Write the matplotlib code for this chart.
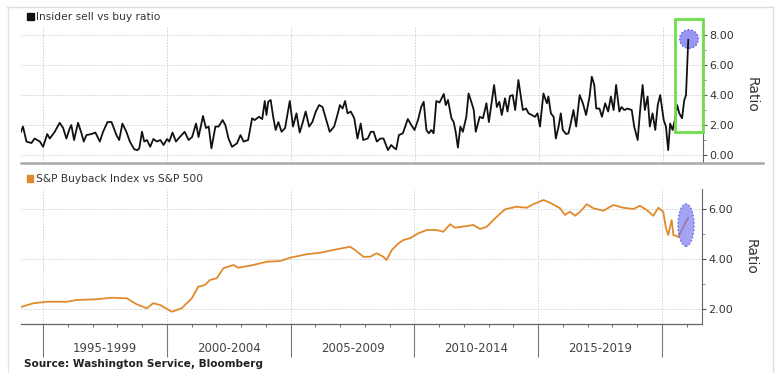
from matplotlib import pyplot as plt
from matplotlib.patches import Rectangle, Ellipse
from matplotlib.lines import Line2D
from matplotlib.ticker import MultipleLocator, FormatStrFormatter

# insider sell / buy ratio (decimal years)
insider_years = [
    1994.11, 1994.19, 1994.33, 1994.53, 1994.66, 1994.87, 1995.00, 1995.17, 1995.27, 1995.47,
    1995.67, 1995.81, 1995.94, 1996.08, 1996.14, 1996.25, 1996.41, 1996.55, 1996.64, 1996.75,
    1996.95, 1997.11, 1997.29, 1997.42, 1997.60, 1997.76, 1997.96, 1998.07, 1998.20, 1998.36,
    1998.50, 1998.68, 1998.81,
    1998.88, 1998.99, 1999.08, 1999.19, 1999.32, 1999.45, 1999.59, 1999.73, 1999.86, 2000.00,
    2000.09, 2000.22, 2000.36, 2000.46, 2000.71, 2000.87, 2001.01, 2001.17, 2001.27, 2001.45,
    2001.57, 2001.68, 2001.79, 2001.95, 2002.08, 2002.24, 2002.35, 2002.48, 2002.62, 2002.82,
    2002.96, 2003.09, 2003.27, 2003.43, 2003.53,
    2003.71, 2003.84, 2003.94, 2004.01, 2004.08, 2004.18, 2004.28, 2004.38, 2004.49, 2004.62,
    2004.76, 2004.95, 2005.08, 2005.22, 2005.35, 2005.46, 2005.59, 2005.73, 2005.86, 2006.00,
    2006.13, 2006.27, 2006.40, 2006.56, 2006.74, 2006.87, 2006.97, 2007.08, 2007.18, 2007.28,
    2007.41, 2007.55, 2007.68, 2007.81, 2007.91, 2008.09, 2008.22,
    2008.33, 2008.46, 2008.60, 2008.73, 2008.91, 2009.04, 2009.14, 2009.24, 2009.35, 2009.51,
    2009.71, 2009.85, 2009.98, 2010.12, 2010.25, 2010.35, 2010.46, 2010.56, 2010.66, 2010.75,
    2010.86, 2010.99, 2011.16, 2011.24, 2011.33, 2011.47, 2011.56, 2011.64, 2011.73, 2011.83,
    2011.93, 2012.07, 2012.16, 2012.27, 2012.37, 2012.45, 2012.61, 2012.74, 2012.88, 2012.98,
    2013.19, 2013.30, 2013.40, 2013.50, 2013.63, 2013.73, 2013.83, 2013.94, 2014.04, 2014.17,
    2014.35, 2014.48, 2014.58, 2014.71, 2014.84, 2014.94, 2015.04, 2015.18, 2015.32, 2015.38,
    2015.48, 2015.59, 2015.68, 2015.79, 2015.88, 2015.96, 2016.09, 2016.19, 2016.28, 2016.39,
    2016.50, 2016.64, 2016.77, 2016.90, 2017.04, 2017.13, 2017.23, 2017.31, 2017.44, 2017.54,
    2017.67,
    2017.79, 2017.90, 2018.01, 2018.11, 2018.24, 2018.33, 2018.44, 2018.57, 2018.74, 2018.84,
    2018.98, 2019.08, 2019.18, 2019.27, 2019.38, 2019.47, 2019.58, 2019.69, 2019.79, 2019.89,
    2020.03, 2020.12, 2020.21, 2020.29, 2020.39, 2020.48, 2020.57, 2020.66, 2020.77, 2020.86,
    2020.93, 2021.02]
insider_ratio = [
    1.55, 1.9, 0.9, 0.8, 1.1, 0.9, 0.55, 1.4, 1.1, 1.55,
    2.15, 1.8, 1.1, 1.8, 2.0, 1.0, 2.15, 1.45, 0.9, 1.33,
    1.4, 1.5, 0.9, 1.55, 2.2, 2.2, 1.33, 1.0, 2.1, 1.55,
    0.9, 0.38, 0.33,
    0.45, 1.55, 0.9, 1.0, 0.55, 1.07, 0.9, 1.0, 0.67, 1.07,
    0.9, 1.5, 0.9, 1.1, 1.55, 1.0, 1.2, 2.1, 1.2, 2.6,
    1.8, 1.9, 0.45, 1.9, 1.9, 2.33, 2.0, 1.1, 0.55, 0.78,
    1.33, 0.9, 1.0, 2.45, 2.33,
    2.55, 2.4, 3.6, 2.67, 3.55, 3.67, 2.55, 1.67, 2.2, 1.55,
    1.8, 3.6, 1.9, 2.78, 1.5, 2.1, 2.9, 1.9, 2.2, 2.9,
    3.33, 3.2, 2.45, 1.55, 1.9, 2.67, 3.33, 3.1, 3.6, 2.78,
    2.9, 2.45, 1.1, 2.1, 1.0, 1.1, 1.55,
    1.55, 0.9, 1.1, 1.1, 0.33, 0.67, 0.5, 0.38, 1.33, 1.45,
    2.4, 2.0, 1.67, 2.33, 3.2, 3.55, 1.67, 1.45, 1.67, 1.45,
    3.6, 3.5, 4.07, 3.33, 3.67, 2.45, 2.2, 1.55, 0.5, 1.9,
    1.55, 2.55, 4.1, 3.55, 3.0, 1.55, 2.55, 2.45, 3.45, 2.2,
    4.67, 3.2, 3.55, 2.67, 3.78, 2.9, 3.93, 4.0, 3.0, 5.0,
    3.0, 3.1, 2.78, 2.67, 2.55, 2.78, 1.9, 4.1, 3.45, 3.9,
    2.78, 2.55, 1.1, 1.9, 2.78, 1.67, 1.4, 1.45, 2.1, 3.0,
    1.9, 4.0, 3.45, 2.67, 3.9, 5.22, 4.67, 3.1, 3.1, 2.55,
    3.45,
    2.9, 3.9, 3.0, 4.67, 2.9, 3.2, 3.0, 3.1, 3.0, 1.9,
    1.0, 3.0, 4.67, 3.0, 3.9, 1.9, 2.78, 1.67, 3.33, 4.0,
    2.33, 1.9, 0.33, 2.1, 1.67, 2.33, 3.33, 2.78, 2.45, 3.67,
    4.0, 7.67]

# S&P buyback index vs S&P 500
buyback_years = [
    1994.14, 1994.61, 1995.15, 1995.96, 1996.36, 1997.17, 1997.77, 1998.38, 1998.78, 1999.19,
    1999.45, 1999.73, 2000.20, 2000.60, 2001.01, 2001.27, 2001.54, 2001.74, 2002.02, 2002.28,
    2002.69, 2002.89, 2003.49, 2004.03, 2004.57, 2004.98, 2005.65, 2006.19, 2006.72, 2007.40,
    2007.60, 2007.94, 2008.21, 2008.48, 2008.74, 2008.88, 2009.08, 2009.35, 2009.55, 2009.82,
    2010.16, 2010.50, 2010.90, 2011.17, 2011.44, 2011.64, 2012.11, 2012.38, 2012.65, 2012.92,
    2013.26, 2013.66, 2014.13, 2014.53, 2014.80, 2015.21, 2015.48, 2015.88, 2016.08, 2016.28,
    2016.49, 2016.69, 2016.96, 2017.23, 2017.63, 2018.03, 2018.44, 2018.84, 2019.11, 2019.38,
    2019.65, 2019.85, 2020.05, 2020.16, 2020.25, 2020.39, 2020.46, 2020.66, 2020.80, 2020.93,
    2021.06]
buyback_ratio = [
    2.09, 2.23, 2.29, 2.29, 2.36, 2.39, 2.45, 2.43, 2.19, 2.03,
    2.23, 2.16, 1.89, 2.03, 2.43, 2.89, 2.96, 3.16, 3.23, 3.63,
    3.76, 3.65, 3.76, 3.89, 3.92, 4.05, 4.19, 4.25, 4.36, 4.49,
    4.36, 4.09, 4.09, 4.23, 4.09, 3.96, 4.35, 4.62, 4.76, 4.83,
    5.03, 5.16, 5.16, 5.09, 5.39, 5.25, 5.32, 5.36, 5.20, 5.29,
    5.63, 5.99, 6.09, 6.05, 6.19, 6.36, 6.25, 6.03, 5.76, 5.89,
    5.73, 5.89, 6.19, 6.03, 5.93, 6.16, 6.05, 6.00, 6.13, 5.96,
    5.73, 6.05, 5.89, 5.23, 4.96, 5.56, 4.96, 4.89, 5.16, 5.43,
    5.65]

period_labels = ['1995-1999', '2000-2004', '2005-2009', '2010-2014', '2015-2019']
period_starts = [1995, 2000, 2005, 2010, 2015, 2020]

W, H = 782, 373
XMIN, XMAX = 1994.11, 2021.615
text_col = '#333333'
grid_col = '#d2d2d2'
orange = '#e08a2c'


def fx(px):
    return px / W


def fy(py):
    return 1 - py / H


fig = plt.figure(figsize=(W / 100, H / 100), dpi=100)
fig.patch.set_facecolor('white')

ax1 = fig.add_axes([fx(21), fy(163), fx(703) - fx(21), fy(26) - fy(163)])
ax2 = fig.add_axes([fx(21), fy(324), fx(702) - fx(21), fy(189) - fy(324)])

for ax in (ax1, ax2):
    ax.set_xlim(XMIN, XMAX)
    ax.set_facecolor('white')
    ax.yaxis.tick_right()
    ax.yaxis.set_major_formatter(FormatStrFormatter('%.2f'))
    ax.yaxis.set_minor_locator(MultipleLocator(1))
    ax.tick_params(axis='y', which='major', direction='out', length=3, width=0.8,
                   colors='#555555', labelcolor=text_col, labelsize=8, pad=1.5)
    ax.tick_params(axis='y', which='minor', direction='out', length=2, width=0.6,
                   colors='#777777')
    for s in ('top', 'left'):
        ax.spines[s].set_visible(False)
    ax.spines['right'].set_color('#666666')
    ax.spines['right'].set_linewidth(0.8)
    ax.grid(axis='y', which='major', color=grid_col, linestyle=(0, (1.5, 1.5)), linewidth=0.7)
    for yr in period_starts:
        ax.axvline(yr, color=grid_col, linestyle=(0, (1.5, 1.5)), linewidth=0.7, zorder=0)
    ax.set_ylabel('Ratio', rotation=270, fontsize=10, color=text_col, labelpad=18)
    ax.yaxis.set_label_position('right')

# top panel
ax1.plot(insider_years, insider_ratio, color='#111111', linewidth=1.3, zorder=3)
ax1.set_ylim(-0.53, 8.6)
ax1.yaxis.set_major_locator(MultipleLocator(2))
ax1.set_xticks([])
ax1.spines['bottom'].set_visible(False)

ax1.add_patch(Rectangle((2020.48, 1.53), XMAX - 2020.48, 9.07 - 1.53, fill=False,
                        edgecolor='#6ede4a', linewidth=2, clip_on=False, zorder=4))
ax1.add_patch(Ellipse((2021.05, 7.73), 0.76, 1.25, facecolor='#8c8cf2', alpha=0.9,
                      edgecolor='#5050dc', linestyle=':', linewidth=1, clip_on=False, zorder=2))

# bottom panel
ax2.plot(buyback_years, buyback_ratio, color=orange, linewidth=1.3, zorder=3)
ax2.set_ylim(1.4, 6.8)
ax2.yaxis.set_major_locator(MultipleLocator(2))
ax2.spines['bottom'].set_color('#666666')
ax2.spines['bottom'].set_linewidth(0.9)
ax2.set_xticks(period_starts)
ax2.set_xticklabels([])
ax2.xaxis.set_minor_locator(MultipleLocator(1))
ax2.tick_params(axis='x', which='major', direction='out', length=24, width=0.8,
                colors='#777777')
ax2.tick_params(axis='x', which='minor', direction='out', length=2.5, width=0.8,
                colors='#777777')
for i, lab in enumerate(period_labels):
    mid = (period_starts[i] + period_starts[i + 1]) / 2
    ax2.text(mid, -0.178, lab, transform=ax2.get_xaxis_transform(), ha='center',
             va='center', fontsize=8.5, color='#444444')

ax2.add_patch(Ellipse((2020.97, 5.36), 0.66, 1.7, facecolor='#7474f0', alpha=0.65,
                      edgecolor='#3a3ad0', linestyle=':', linewidth=1, zorder=4))

# legends
fig.patches.append(Rectangle((fx(27), fy(19.5)), fx(6.5), fy(0) - fy(6.5),
                             transform=fig.transFigure, color='#111111'))
fig.text(fx(36), fy(16.5), 'Insider sell vs buy ratio', fontsize=7.7, color=text_col,
         va='center', ha='left')
fig.patches.append(Rectangle((fx(26.5), fy(181.5)), fx(6.5), fy(0) - fy(6.5),
                             transform=fig.transFigure, color=orange))
fig.text(fx(36), fy(178.5), 'S&P Buyback Index vs S&P 500', fontsize=7.7, color=text_col,
         va='center', ha='left')

# frame and separator lines
fig.add_artist(Line2D([fx(7), fx(773)], [fy(7), fy(7)], color='#dddddd', linewidth=1))
fig.add_artist(Line2D([fx(8), fx(8)], [fy(7), fy(373)], color='#e4e4e4', linewidth=1))
fig.add_artist(Line2D([fx(773), fx(773)], [fy(7), fy(373)], color='#dddddd', linewidth=1))
fig.add_artist(Line2D([fx(21), fx(763)], [fy(163.5), fy(163.5)], color='#a8a8a8',
                      linewidth=1.8))

fig.text(fx(24), fy(364), 'Source: Washington Service, Bloomberg', fontsize=7.6,
         fontweight='bold', color='#222222', va='center', ha='left')

fig.savefig('out.png', dpi=100)
